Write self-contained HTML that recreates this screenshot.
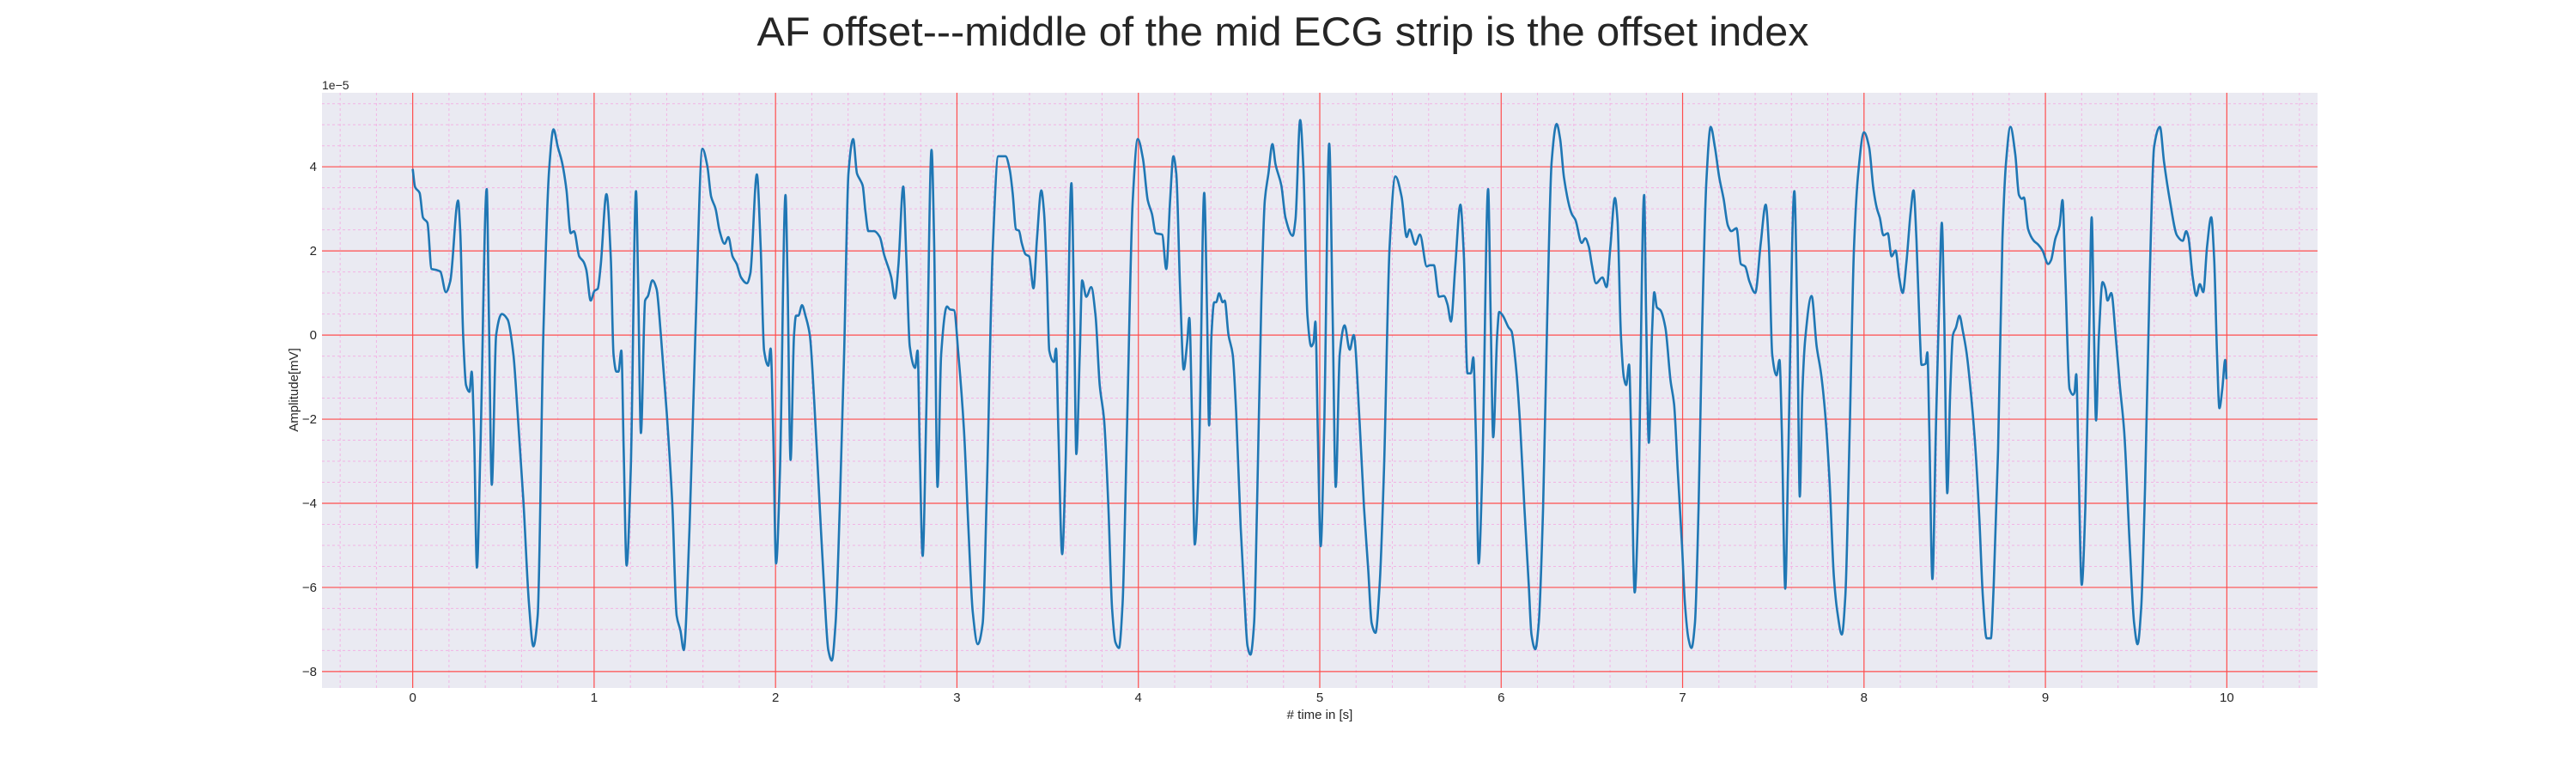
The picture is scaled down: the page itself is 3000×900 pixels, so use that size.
<!DOCTYPE html>
<html><head><meta charset="utf-8"><style>
html,body{margin:0;padding:0;background:#fff;}
svg{display:block;}
text{font-family:"Liberation Sans",Arial,sans-serif;fill:#262626;}
</style></head><body>
<svg id="chart" width="3000" height="900" viewBox="0 0 3000 900" xmlns="http://www.w3.org/2000/svg">
<text x="1494" y="53" font-size="47" text-anchor="middle" textLength="1225" lengthAdjust="spacingAndGlyphs">AF offset---middle of the mid ECG strip is the offset index</text>
<rect x="375" y="108" width="2324" height="693" fill="#eaeaf2"/>
<g id="grid-minor"></g>
<g id="grid-major"></g>
<g id="ticks"></g>
<text x="375" y="104" font-size="14">1e−5</text>
<text x="1537" y="837" font-size="15" text-anchor="middle"># time in [s]</text>
<text transform="translate(347,454) rotate(-90)" font-size="15" text-anchor="middle">Amplitude[mV]</text>
<g id="series"></g>
</svg>
<script>
const times = [0,0.013,0.038,0.057,0.081,0.104,0.128,0.152,0.183,0.207,0.25,0.262,0.278,0.294,0.313,0.325,0.338,0.354,0.373,0.408,0.42,0.436,0.46,0.491,0.523,0.555,0.578,0.61,0.641,0.665,0.689,0.72,0.752,0.776,0.8,0.823,0.847,0.871,0.889,0.918,0.942,0.957,0.981,1.002,1.02,1.036,1.068,1.092,1.107,1.123,1.134,1.15,1.163,1.179,1.202,1.231,1.242,1.258,1.281,1.297,1.321,1.344,1.368,1.4,1.431,1.455,1.476,1.494,1.526,1.558,1.597,1.624,1.645,1.669,1.692,1.719,1.74,1.763,1.786,1.81,1.842,1.861,1.897,1.918,1.937,1.96,1.973,1.987,2.003,
2.024,2.055,2.066,2.083,2.102,2.113,2.126,2.146,2.165,2.189,2.213,2.244,2.268,2.291,2.31,2.331,2.354,2.378,2.402,2.428,2.449,2.465,2.48,2.496,2.512,2.543,2.575,2.598,2.638,2.658,2.677,2.704,2.721,2.74,2.769,2.783,2.795,2.811,2.831,2.86,2.874,2.893,2.913,2.945,2.961,2.984,3.008,3.039,3.063,3.087,3.115,3.142,3.165,3.197,3.228,3.268,3.291,3.307,3.326,3.342,3.357,3.378,3.398,3.422,3.441,3.465,3.48,3.496,3.509,3.535,3.546,3.559,3.58,3.598,3.631,3.646,3.658,3.677,3.69,3.713,3.74,3.764,3.787,3.811,3.835,3.855,3.874,3.893,3.913,3.937,3.969,3.997,
4.025,4.052,4.075,4.096,4.131,4.154,4.175,4.193,4.209,4.23,4.25,4.269,4.281,4.297,4.311,4.335,4.363,4.379,4.39,4.403,4.418,4.429,4.445,4.465,4.476,4.497,4.52,4.539,4.564,4.583,4.602,4.618,4.638,4.654,4.678,4.697,4.717,4.739,4.756,4.788,4.811,4.851,4.866,4.892,4.91,4.932,4.953,4.965,4.976,4.989,5.005,5.024,5.052,5.071,5.088,5.11,5.137,5.165,5.187,5.22,5.244,5.267,5.286,5.307,5.33,5.354,5.385,5.417,5.451,5.479,5.495,5.527,5.552,5.59,5.608,5.629,5.657,5.684,5.704,5.723,5.747,5.775,5.794,5.814,5.833,5.846,5.86,5.876,5.896,5.928,5.942,5.956,
5.978,5.989,6.009,6.041,6.057,6.081,6.104,6.128,6.152,6.167,6.188,6.207,6.231,6.254,6.278,6.306,6.325,6.346,6.389,6.409,6.444,6.463,6.483,6.499,6.523,6.558,6.581,6.602,6.627,6.641,6.66,6.676,6.689,6.705,6.716,6.736,6.755,6.788,6.799,6.814,6.831,6.844,6.858,6.878,6.905,6.934,6.953,6.973,6.997,7.013,7.032,7.049,7.068,7.088,7.107,7.131,7.155,7.178,7.202,7.226,7.25,7.269,7.297,7.321,7.345,7.368,7.4,7.431,7.458,7.476,7.494,7.518,7.534,7.547,7.566,7.581,7.616,7.632,7.646,7.66,7.676,7.711,7.739,7.763,7.787,7.81,7.834,7.853,7.878,7.897,7.921,7.945,7.968,
8.0,8.028,8.052,8.071,8.087,8.107,8.131,8.152,8.174,8.194,8.213,8.234,8.257,8.273,8.289,8.308,8.317,8.34,8.349,8.36,8.377,8.396,8.415,8.429,8.442,8.459,8.475,8.49,8.507,8.526,8.545,8.565,8.589,8.612,8.636,8.655,8.676,8.699,8.715,8.739,8.763,8.783,8.807,8.834,8.854,8.87,8.881,8.905,8.936,8.96,8.984,9.015,9.031,9.054,9.078,9.094,9.11,9.133,9.152,9.16,9.17,9.181,9.2,9.22,9.241,9.255,9.268,9.279,9.295,9.315,9.331,9.342,9.363,9.387,9.41,9.434,9.465,9.489,9.508,9.528,9.549,9.575,9.599,9.631,9.654,9.686,9.725,9.757,9.776,9.788,9.812,9.832,9.851,9.87,9.891,9.914,9.93,9.946,9.959,9.975,9.991,9.998];
const amps = [3.95,3.52,3.38,2.79,2.67,1.57,1.55,1.51,1.02,1.28,3.2,2.47,0,-1.19,-1.35,-0.87,-2.28,-5.53,-2.74,3.47,0.46,-3.56,0,0.5,0.37,-0.46,-1.83,-3.93,-6.39,-7.4,-6.67,0,3.93,4.89,4.47,4.11,3.47,2.42,2.47,1.87,1.74,1.55,0.82,1.05,1.1,1.64,3.35,1.83,-0.46,-0.87,-0.87,-0.37,-2.74,-5.48,-3.2,3.42,1.37,-2.33,0.82,0.93,1.3,1.1,0,-1.83,-4.02,-6.67,-7.03,-7.49,-4.57,0,4.43,4.02,3.29,3.01,2.47,2.17,2.33,1.87,1.69,1.37,1.23,1.46,3.82,2.1,-0.37,-0.73,-0.32,-2.28,-5.43,
-3.29,3.33,1.37,-2.97,0,0.46,0.46,0.71,0.46,0,-1.55,-4.11,-6.03,-7.49,-7.74,-6.85,-4.11,-0.46,3.84,4.66,3.84,3.7,3.56,2.92,2.47,2.47,2.33,1.92,1.37,0.87,1.64,3.53,1.83,-0.27,-0.78,-0.37,-2.74,-5.25,-1.83,4.4,2.28,-3.61,-0.46,0.68,0.61,0.59,-0.46,-2.28,-4.57,-6.58,-7.35,-6.85,-3.65,2.01,4.25,4.25,3.93,3.38,2.51,2.48,2.19,1.92,1.87,1.11,2.28,3.44,2.92,1.37,-0.37,-0.64,-0.32,-2.28,-5.21,-3.2,3.61,0.46,-2.83,-0.46,1.3,0.91,1.14,0.46,-1.19,-2.01,-4.11,-6.49,-7.31,-7.44,-6.39,-2.28,3.2,4.66,
4.2,3.2,2.88,2.42,2.39,1.57,3.2,4.25,3.84,1.1,-0.82,-0.18,0.41,-2.28,-4.98,-2.74,3.38,0.46,-2.15,0,0.78,0.78,0.99,0.78,0.82,0,-0.46,-1.83,-4.57,-6.12,-7.4,-7.6,-6.85,-4.11,0.82,3.2,3.84,4.54,4.06,3.56,2.79,2.36,2.74,5.11,3.93,0.46,-0.27,-0.18,0.32,-2.28,-5.02,-2.28,4.55,0.46,-3.61,-0.46,0.23,-0.35,0,-2.1,-4.11,-5.57,-6.85,-7.08,-5.94,-3.2,2.1,3.77,3.29,2.33,2.51,2.15,2.39,1.63,1.66,1.66,0.91,0.93,0.73,0.32,1.64,3.1,1.92,-0.91,-0.91,-0.53,-2.28,-5.43,-3.2,3.47,0.46,-2.43,
0,0.55,0.46,0.18,0.09,-0.73,-2.1,-4.11,-5.94,-7.12,-7.47,-6.85,-4.11,0.46,4.11,5.02,4.66,3.75,2.88,2.74,2.19,2.3,2.1,1.69,1.23,1.37,1.14,2.1,3.26,2.74,0,-1.0,-1.19,-0.7,-2.28,-6.12,-4.11,3.33,0.46,-2.56,0,1.02,0.66,0.59,0.18,-1.1,-1.64,-3.2,-5.02,-6.39,-7.21,-7.44,-6.85,-4.11,0,3.65,4.95,4.47,3.75,3.24,2.6,2.47,2.54,1.69,1.63,1.28,1.0,2.19,3.1,2.1,-0.46,-0.96,-0.59,-2.28,-6.03,-3.2,3.42,0.46,-3.84,-1.37,-0.09,0.93,-0.27,-0.91,-1.92,-3.47,-5.75,-6.58,-7.12,-6.21,-2.28,2.1,3.84,
4.82,4.47,3.47,3.01,2.79,2.37,2.42,1.87,2.01,1.37,1.0,1.74,2.92,3.44,2.28,0,-0.71,-0.68,-0.41,-2.28,-5.8,-2.28,0.91,2.67,0.46,-3.76,-1.37,0,0.18,0.46,0.09,-0.41,-1.37,-2.56,-4.38,-6.21,-7.21,-7.21,-5.94,-2.74,2.28,4.11,4.95,4.29,3.33,3.24,3.27,2.51,2.24,2.15,2.01,1.69,1.78,2.28,2.6,3.21,1.37,-1.28,-1.42,-1.37,-0.93,-2.74,-5.94,-4.11,0,2.8,0,-2.03,0,1.26,1.1,0.82,1.0,0,-1.19,-2.28,-5.02,-6.85,-7.35,-6.48,-3.65,1.37,4.47,4.95,4.11,3.2,2.37,2.24,2.47,2.33,1.37,0.93,1.21,1.02,2.1,2.8,1.83,-0.46,-1.74,-1.28,-0.59,-1.05];
const xTicks = [0,1,2,3,4,5,6,7,8,9,10];
const yTicks = [-8,-6,-4,-2,0,2,4];
const xDomain = [-0.5, 10.5];
const yDomain = [-8.39, 5.76];

const NS = "http://www.w3.org/2000/svg";
const L = 375, R = 2699, T = 108, B = 801;
function xs(t){ return L + (t - xDomain[0]) / (xDomain[1]-xDomain[0]) * (R-L); }
function ys(v){ return B - (v - yDomain[0]) / (yDomain[1]-yDomain[0]) * (B-T); }
function mk(tag, attrs, parent){ const e=document.createElementNS(NS,tag); for(const k in attrs) e.setAttribute(k,attrs[k]); parent.appendChild(e); return e; }

const gMin = document.getElementById('grid-minor');
for (let i = Math.ceil(xDomain[0]/0.2); i*0.2 <= xDomain[1]; i++) {
  const t = i*0.2; if (Math.abs(t-Math.round(t))<1e-6) continue;
  const ln = mk('line',{x1:xs(t),x2:xs(t),y1:T,y2:B,stroke:'#f2b4e4','stroke-width':1,'stroke-dasharray':'3,3'},gMin);
  
  
}
for (let i = Math.ceil(yDomain[0]/0.5); i*0.5 <= yDomain[1]; i++) {
  const v = i*0.5; if (Math.abs(v/2-Math.round(v/2))<1e-6) continue;
  const ln = mk('line',{x1:L,x2:R,y1:ys(v),y2:ys(v),stroke:'#f2b4e4','stroke-width':1,'stroke-dasharray':'3,3'},gMin);
  
  
}
const gMaj = document.getElementById('grid-major');
const gTk = document.getElementById('ticks');
xTicks.forEach(t => {
  const ln = mk('line',{x1:xs(t),x2:xs(t),y1:T,y2:B,stroke:'#ff4d4d','stroke-width':1.2},gMaj);
  
  
  const tx = mk('text',{x:xs(t),y:817,'font-size':15,'text-anchor':'middle'},gTk);
  tx.textContent = String(t);
  
  
});
yTicks.forEach(v => {
  const ln = mk('line',{x1:L,x2:R,y1:ys(v),y2:ys(v),stroke:'#ff4d4d','stroke-width':1.2},gMaj);
  
  
  const tx = mk('text',{x:369,y:ys(v)+5,'font-size':15,'text-anchor':'end'},gTk);
  tx.textContent = v < 0 ? '\u2212' + Math.abs(v) : String(v);
  
  
});

const px = times.map(xs), py = amps.map(ys);
const n = px.length, m = new Array(n), d = [];
for (let i=0;i<n-1;i++) d.push((py[i+1]-py[i])/(px[i+1]-px[i]));
m[0]=d[0]; m[n-1]=d[n-2];
for (let i=1;i<n-1;i++){ m[i] = (d[i-1]*d[i] <= 0) ? 0 : 3*(px[i+1]-px[i-1]) / ((2*px[i+1]-px[i]-px[i-1])/d[i-1] + (px[i+1]+px[i]-2*px[i-1])/d[i]); }
let path = 'M'+px[0].toFixed(2)+','+py[0].toFixed(2);
for (let i=0;i<n-1;i++){
  const h = (px[i+1]-px[i])/3;
  path += 'C'+(px[i]+h).toFixed(2)+','+(py[i]+m[i]*h).toFixed(2)+' '+(px[i+1]-h).toFixed(2)+','+(py[i+1]-m[i+1]*h).toFixed(2)+' '+px[i+1].toFixed(2)+','+py[i+1].toFixed(2);
}
const line = mk('path',{d:path,fill:'none',stroke:'#1f77b4','stroke-width':2.6,'stroke-linejoin':'round'},document.getElementById('series'));


</script>
</body></html>
